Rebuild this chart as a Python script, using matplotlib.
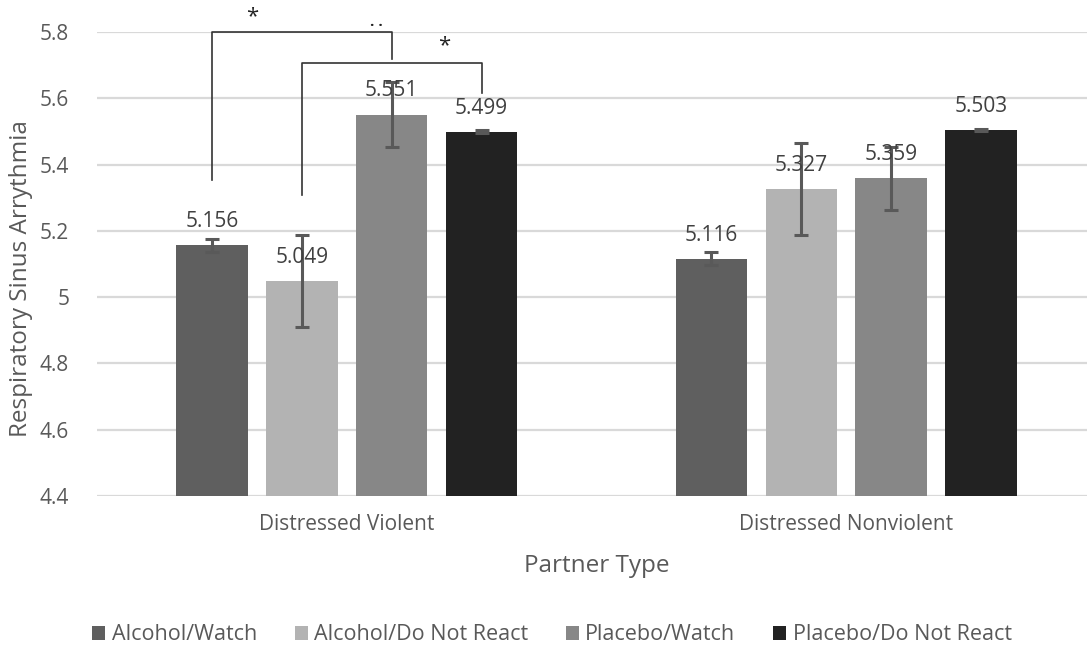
import numpy as np
import matplotlib.pyplot as plt

plt.rcParams["font.family"] = ["Open Sans", "DejaVu Sans"]

partner_types = ["Distressed Violent", "Distressed Nonviolent"]
conditions = ["Alcohol/Watch", "Alcohol/Do Not React", "Placebo/Watch", "Placebo/Do Not React"]
means = {
    "Alcohol/Watch": [5.156, 5.116],
    "Alcohol/Do Not React": [5.049, 5.327],
    "Placebo/Watch": [5.551, 5.359],
    "Placebo/Do Not React": [5.499, 5.503],
}
errors = {
    "Alcohol/Watch": [0.02, 0.02],
    "Alcohol/Do Not React": [0.14, 0.139],
    "Placebo/Watch": [0.097, 0.095],
    "Placebo/Do Not React": [0.004, 0.003],
}
colors = ["#5f5f5f", "#b3b3b3", "#878787", "#222222"]

TEXT = "#595959"
W, H = 1087, 648

fig = plt.figure(figsize=(W / 100, H / 100), dpi=100)
ax = fig.add_axes([97 / W, 1 - 496 / H, 999 / W, 464 / H])

x = np.arange(len(partner_types))
step = 0.18
width = 0.143
offsets = (np.arange(len(conditions)) - 1.5) * step

for i, cond in enumerate(conditions):
    xs = x + offsets[i]
    ax.bar(xs, means[cond], width=width, color=colors[i], label=cond, zorder=2)
    ax.errorbar(xs, means[cond], yerr=errors[cond], fmt="none", ecolor="#595959",
                elinewidth=2.2, capsize=5, capthick=2.2, zorder=3)
    for xi, v in zip(xs, means[cond]):
        ax.annotate(f"{v:.3f}", (xi, v), xytext=(0, 13), textcoords="offset points",
                    ha="center", va="baseline", fontsize=15, color="#404040", zorder=4)

ax.set_ylim(4.4, 5.8)
ax.set_xlim(-0.5, 1.5)
ax.set_yticks(np.arange(4.4, 5.81, 0.2))
ax.set_yticklabels(["4.4", "4.6", "4.8", "5", "5.2", "5.4", "5.6", "5.8"])
ax.set_xticks(x)
ax.set_xticklabels(partner_types)
ax.tick_params(axis="both", length=0, labelsize=15, labelcolor=TEXT)
ax.tick_params(axis="y", pad=20)
ax.tick_params(axis="x", pad=13)
ax.grid(axis="y", color="#d9d9d9", linewidth=1.6, zorder=0)
ax.set_axisbelow(True)
for s in ax.spines.values():
    s.set_visible(False)

fig.text(21 / W, 1 - 279 / H, "Respiratory Sinus Arrythmia", rotation=90,
         ha="center", va="center", fontsize=17.5, color=TEXT)
ax.set_xlabel("Partner Type", fontsize=17.5, color=TEXT, labelpad=14)

# significance brackets between conditions in the violent group
bx = x[0] + offsets
line_kw = dict(color="#333333", linewidth=1.2, clip_on=False, zorder=5)
ax.plot([bx[0], bx[0], bx[2], bx[2]], [5.353, 5.8, 5.8, 5.72], **line_kw)
ax.plot([bx[1], bx[1], bx[3], bx[3]], [5.308, 5.706, 5.706, 5.615], **line_kw)
ax.text((bx[0] + bx[1]) / 2 - 0.01, 5.845, "*", ha="center", va="center",
        fontsize=16, color="#222222", clip_on=False)
ax.text(bx[2] - 0.03, 5.83, ". .", ha="center", va="center",
        fontsize=11, fontweight="bold", color="#222222", clip_on=False)
ax.text((bx[2] + bx[3]) / 2 + 0.015, 5.76, "*", ha="center", va="center",
        fontsize=16, color="#222222", clip_on=False)

handles, labels = ax.get_legend_handles_labels()
fig.legend(handles, labels, loc="center", bbox_to_anchor=(552 / W, 1 - 635 / H),
           ncol=4, frameon=False, fontsize=15.5, labelcolor=TEXT,
           handlelength=0.6, handleheight=0.6, handletextpad=0.3, columnspacing=1.75)

fig.savefig("out.png", dpi=100)
